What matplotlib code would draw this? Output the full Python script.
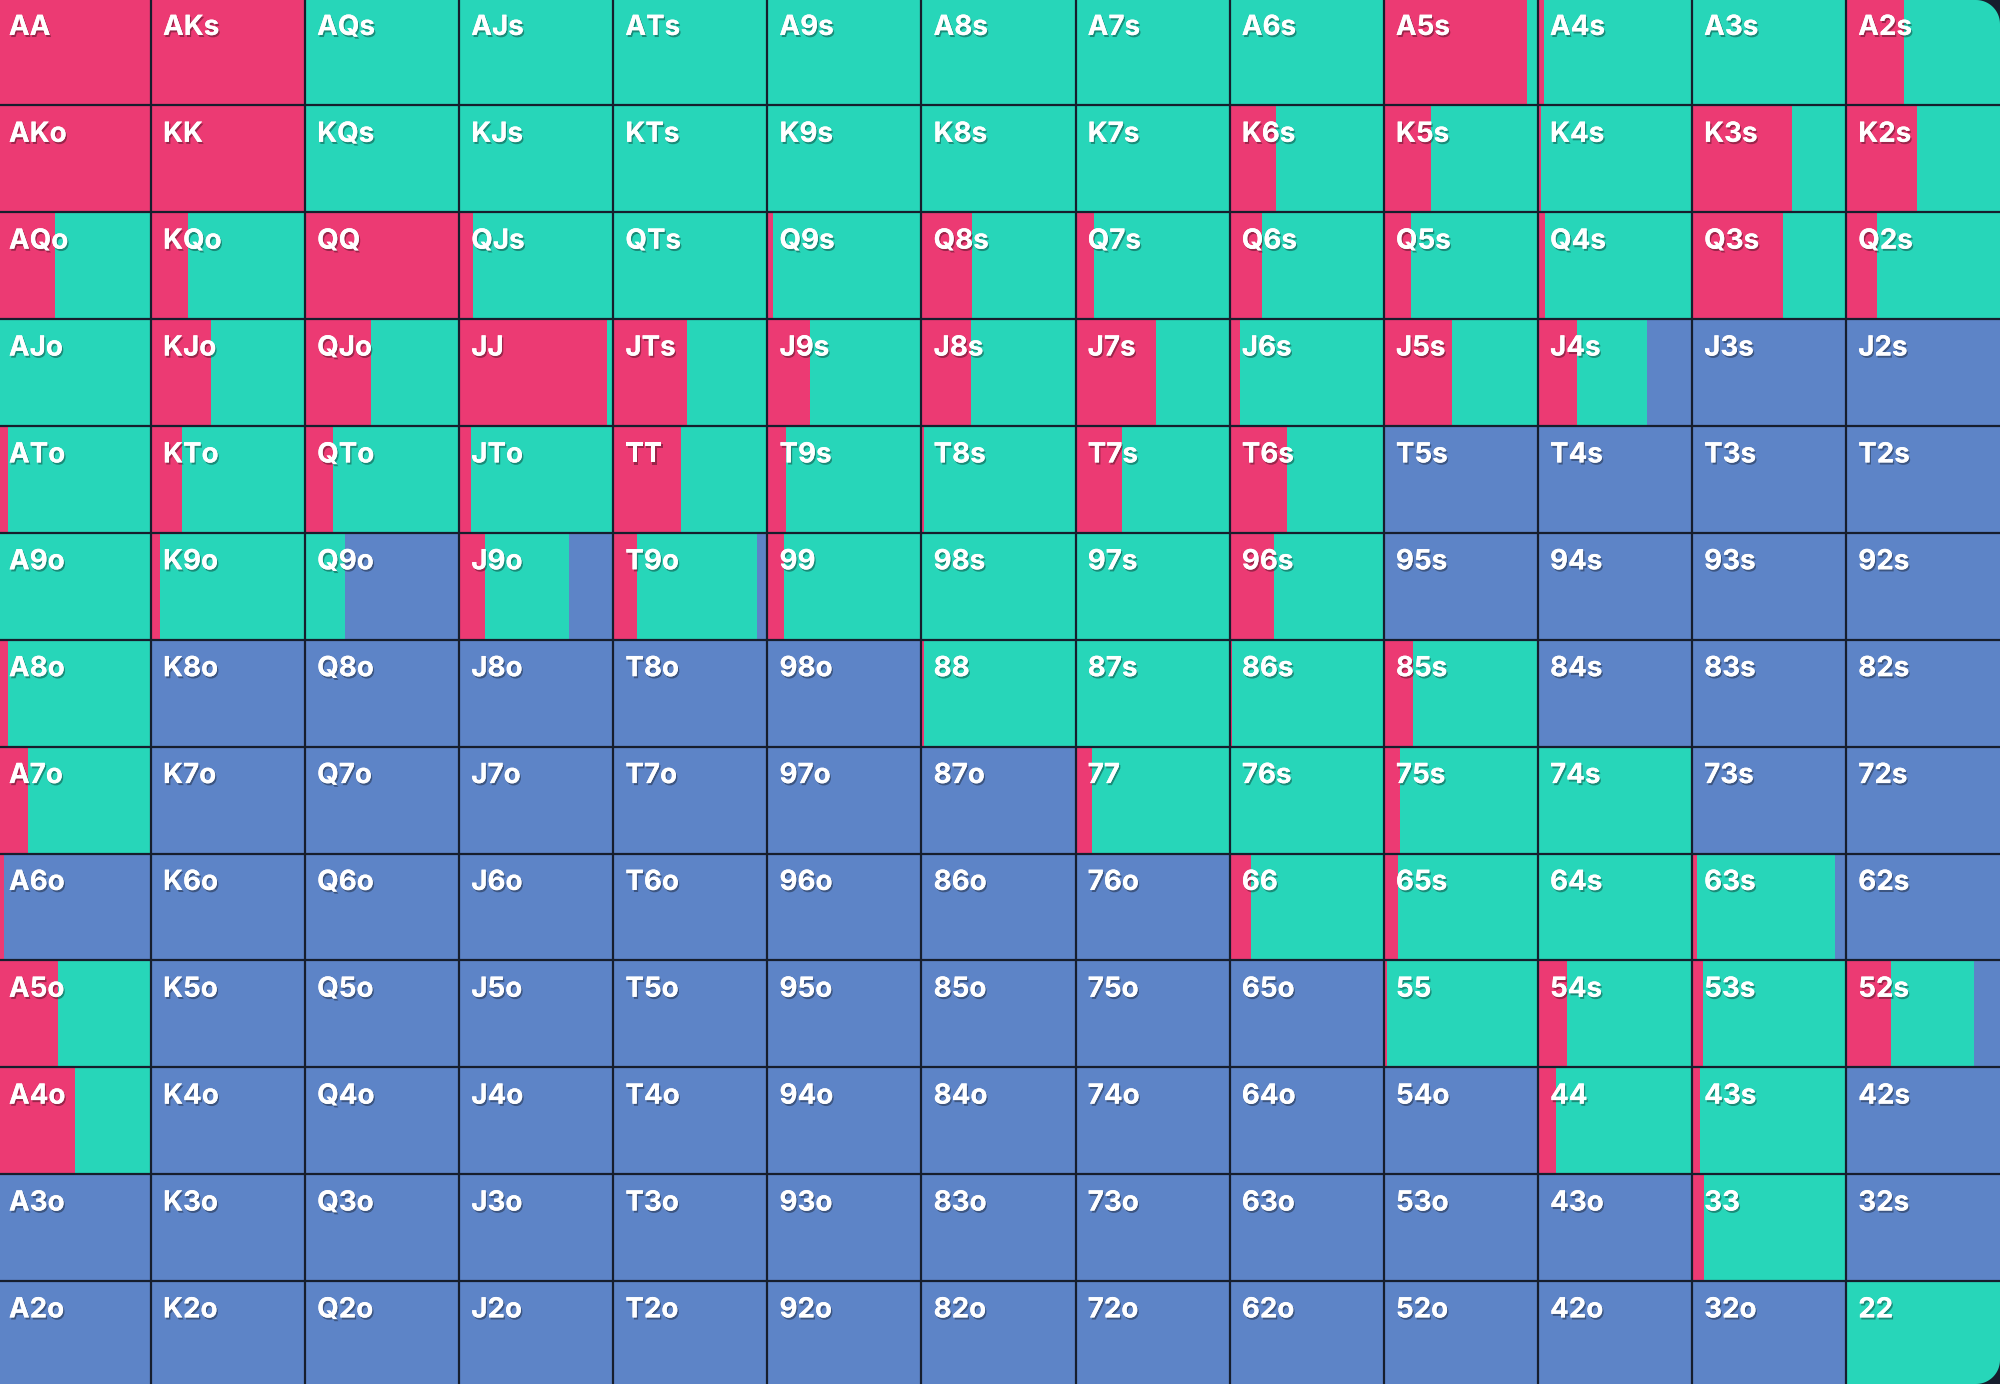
import numpy as np
import matplotlib
matplotlib.use("Agg")
import matplotlib.pyplot as plt
import matplotlib.patheffects as pe
from matplotlib.path import Path
from matplotlib.transforms import Affine2D

ranks = ["A", "K", "Q", "J", "T", "9", "8", "7", "6", "5", "4", "3", "2"]

# raise share of each hand (row = first rank, col = second rank)
raise_freq = [
    [1.00, 1.00, 0.00, 0.00, 0.00, 0.00, 0.00, 0.00, 0.00, 0.93, 0.04, 0.00, 0.375],
    [1.00, 1.00, 0.00, 0.00, 0.00, 0.00, 0.00, 0.00, 0.30, 0.31, 0.02, 0.65, 0.46],
    [0.38, 0.24, 1.00, 0.088, 0.00, 0.04, 0.33, 0.12, 0.21, 0.176, 0.047, 0.59, 0.20],
    [0.00, 0.39, 0.43, 0.957, 0.48, 0.28, 0.32, 0.52, 0.07, 0.44, 0.255, 0.00, 0.00],
    [0.07, 0.20, 0.18, 0.08, 0.44, 0.12, 0.02, 0.30, 0.37, 0.00, 0.00, 0.00, 0.00],
    [0.00, 0.06, 0.00, 0.166, 0.153, 0.11, 0.00, 0.00, 0.29, 0.00, 0.00, 0.00, 0.00],
    [0.07, 0.00, 0.00, 0.00, 0.00, 0.00, 0.02, 0.00, 0.015, 0.19, 0.00, 0.00, 0.00],
    [0.20, 0.00, 0.00, 0.00, 0.00, 0.00, 0.00, 0.105, 0.00, 0.105, 0.00, 0.00, 0.00],
    [0.045, 0.00, 0.00, 0.00, 0.00, 0.00, 0.00, 0.00, 0.136, 0.094, 0.00, 0.03, 0.00],
    [0.40, 0.00, 0.00, 0.00, 0.00, 0.00, 0.00, 0.00, 0.00, 0.02, 0.19, 0.07, 0.29],
    [0.51, 0.00, 0.00, 0.00, 0.00, 0.00, 0.00, 0.00, 0.00, 0.00, 0.12, 0.05, 0.00],
    [0.00, 0.00, 0.00, 0.00, 0.00, 0.00, 0.00, 0.00, 0.00, 0.00, 0.00, 0.08, 0.00],
    [0.00, 0.00, 0.00, 0.00, 0.00, 0.00, 0.00, 0.00, 0.00, 0.00, 0.00, 0.00, 0.005],
]

# call share of each hand
call_freq = [
    [0.00, 0.00, 1.00, 1.00, 1.00, 1.00, 1.00, 1.00, 1.00, 0.07, 0.96, 1.00, 0.625],
    [0.00, 0.00, 1.00, 1.00, 1.00, 1.00, 1.00, 1.00, 0.70, 0.69, 0.98, 0.35, 0.54],
    [0.62, 0.76, 0.00, 0.912, 1.00, 0.96, 0.67, 0.88, 0.79, 0.824, 0.953, 0.41, 0.80],
    [1.00, 0.61, 0.57, 0.043, 0.52, 0.72, 0.68, 0.48, 0.93, 0.56, 0.452, 0.00, 0.00],
    [0.93, 0.80, 0.82, 0.92, 0.56, 0.88, 0.98, 0.70, 0.63, 0.00, 0.00, 0.00, 0.00],
    [1.00, 0.94, 0.26, 0.55, 0.782, 0.89, 1.00, 1.00, 0.71, 0.00, 0.00, 0.00, 0.00],
    [0.93, 0.00, 0.00, 0.00, 0.00, 0.00, 0.98, 1.00, 0.985, 0.81, 0.00, 0.00, 0.00],
    [0.80, 0.00, 0.00, 0.00, 0.00, 0.00, 0.00, 0.895, 1.00, 0.895, 1.00, 0.00, 0.00],
    [0.00, 0.00, 0.00, 0.00, 0.00, 0.00, 0.00, 0.00, 0.864, 0.906, 1.00, 0.90, 0.00],
    [0.60, 0.00, 0.00, 0.00, 0.00, 0.00, 0.00, 0.00, 0.00, 0.98, 0.81, 0.93, 0.54],
    [0.49, 0.00, 0.00, 0.00, 0.00, 0.00, 0.00, 0.00, 0.00, 0.00, 0.88, 0.95, 0.00],
    [0.00, 0.00, 0.00, 0.00, 0.00, 0.00, 0.00, 0.00, 0.00, 0.00, 0.00, 0.92, 0.00],
    [0.00, 0.00, 0.00, 0.00, 0.00, 0.00, 0.00, 0.00, 0.00, 0.00, 0.00, 0.00, 0.995],
]

RED = "#EC3A73"
GREEN = "#27D6B9"
BLUE = "#5D84C7"
LINE = "#161E2D"

raise_arr = np.array(raise_freq)
call_arr = np.array(call_freq)
fold_arr = np.clip(1 - raise_arr - call_arr, 0, 1)

W, H = 2000, 1384
fig = plt.figure(figsize=(W / 100, H / 100), dpi=100)
fig.patch.set_facecolor(LINE)
ax = fig.add_axes([0, 0, 1, 1])
# the grid is cropped a little at the left/top edges in the original
ax.set_xlim(0.021, 12.999)
ax.set_ylim(12.963, 0.013)
ax.axis("off")

# clip shape: rectangle with rounded right-hand corners (in pixels)
R = 24
th = np.linspace(0, np.pi / 2, 20)
verts = [(0, 0), (W - R, 0)]
verts += [(W - R + R * np.sin(t), R - R * np.cos(t)) for t in th]
verts += [(W, H - R)]
verts += [(W - R + R * np.cos(t), H - R + R * np.sin(t)) for t in th]
verts += [(0, H), (0, 0)]
clip_path = Path(verts)
clip_tr = Affine2D().scale(1 / W, 1 / H) + fig.transFigure

cols = np.arange(13)
for r in range(13):
    rows = np.full(13, r)
    bars = []
    bars += ax.barh(rows, raise_arr[r], height=1, left=cols,
                    align="edge", color=RED, linewidth=0)
    bars += ax.barh(rows, call_arr[r], height=1, left=cols + raise_arr[r],
                    align="edge", color=GREEN, linewidth=0)
    bars += ax.barh(rows, fold_arr[r], height=1, left=cols + raise_arr[r] + call_arr[r],
                    align="edge", color=BLUE, linewidth=0)
    for b in bars:
        b.set_clip_path(clip_path, clip_tr)

for k in range(1, 13):
    ax.axvline(k, color=LINE, lw=1.6)
    ax.axhline(k, color=LINE, lw=1.6)

shadow = [pe.withSimplePatchShadow(offset=(1, -1.5), shadow_rgbFace="black", alpha=0.35),
          pe.Normal()]
for r in range(13):
    for c in range(13):
        if r == c:
            lab = ranks[r] + ranks[c]
        elif c > r:
            lab = ranks[r] + ranks[c] + "s"
        else:
            lab = ranks[c] + ranks[r] + "o"
        ax.text(c + 0.079, r + 0.34, lab, color="white", fontsize=20,
                fontweight="bold", family=["Inter", "DejaVu Sans"],
                va="baseline", ha="left", path_effects=shadow)

fig.savefig("out.png", dpi=100, facecolor=fig.get_facecolor())
